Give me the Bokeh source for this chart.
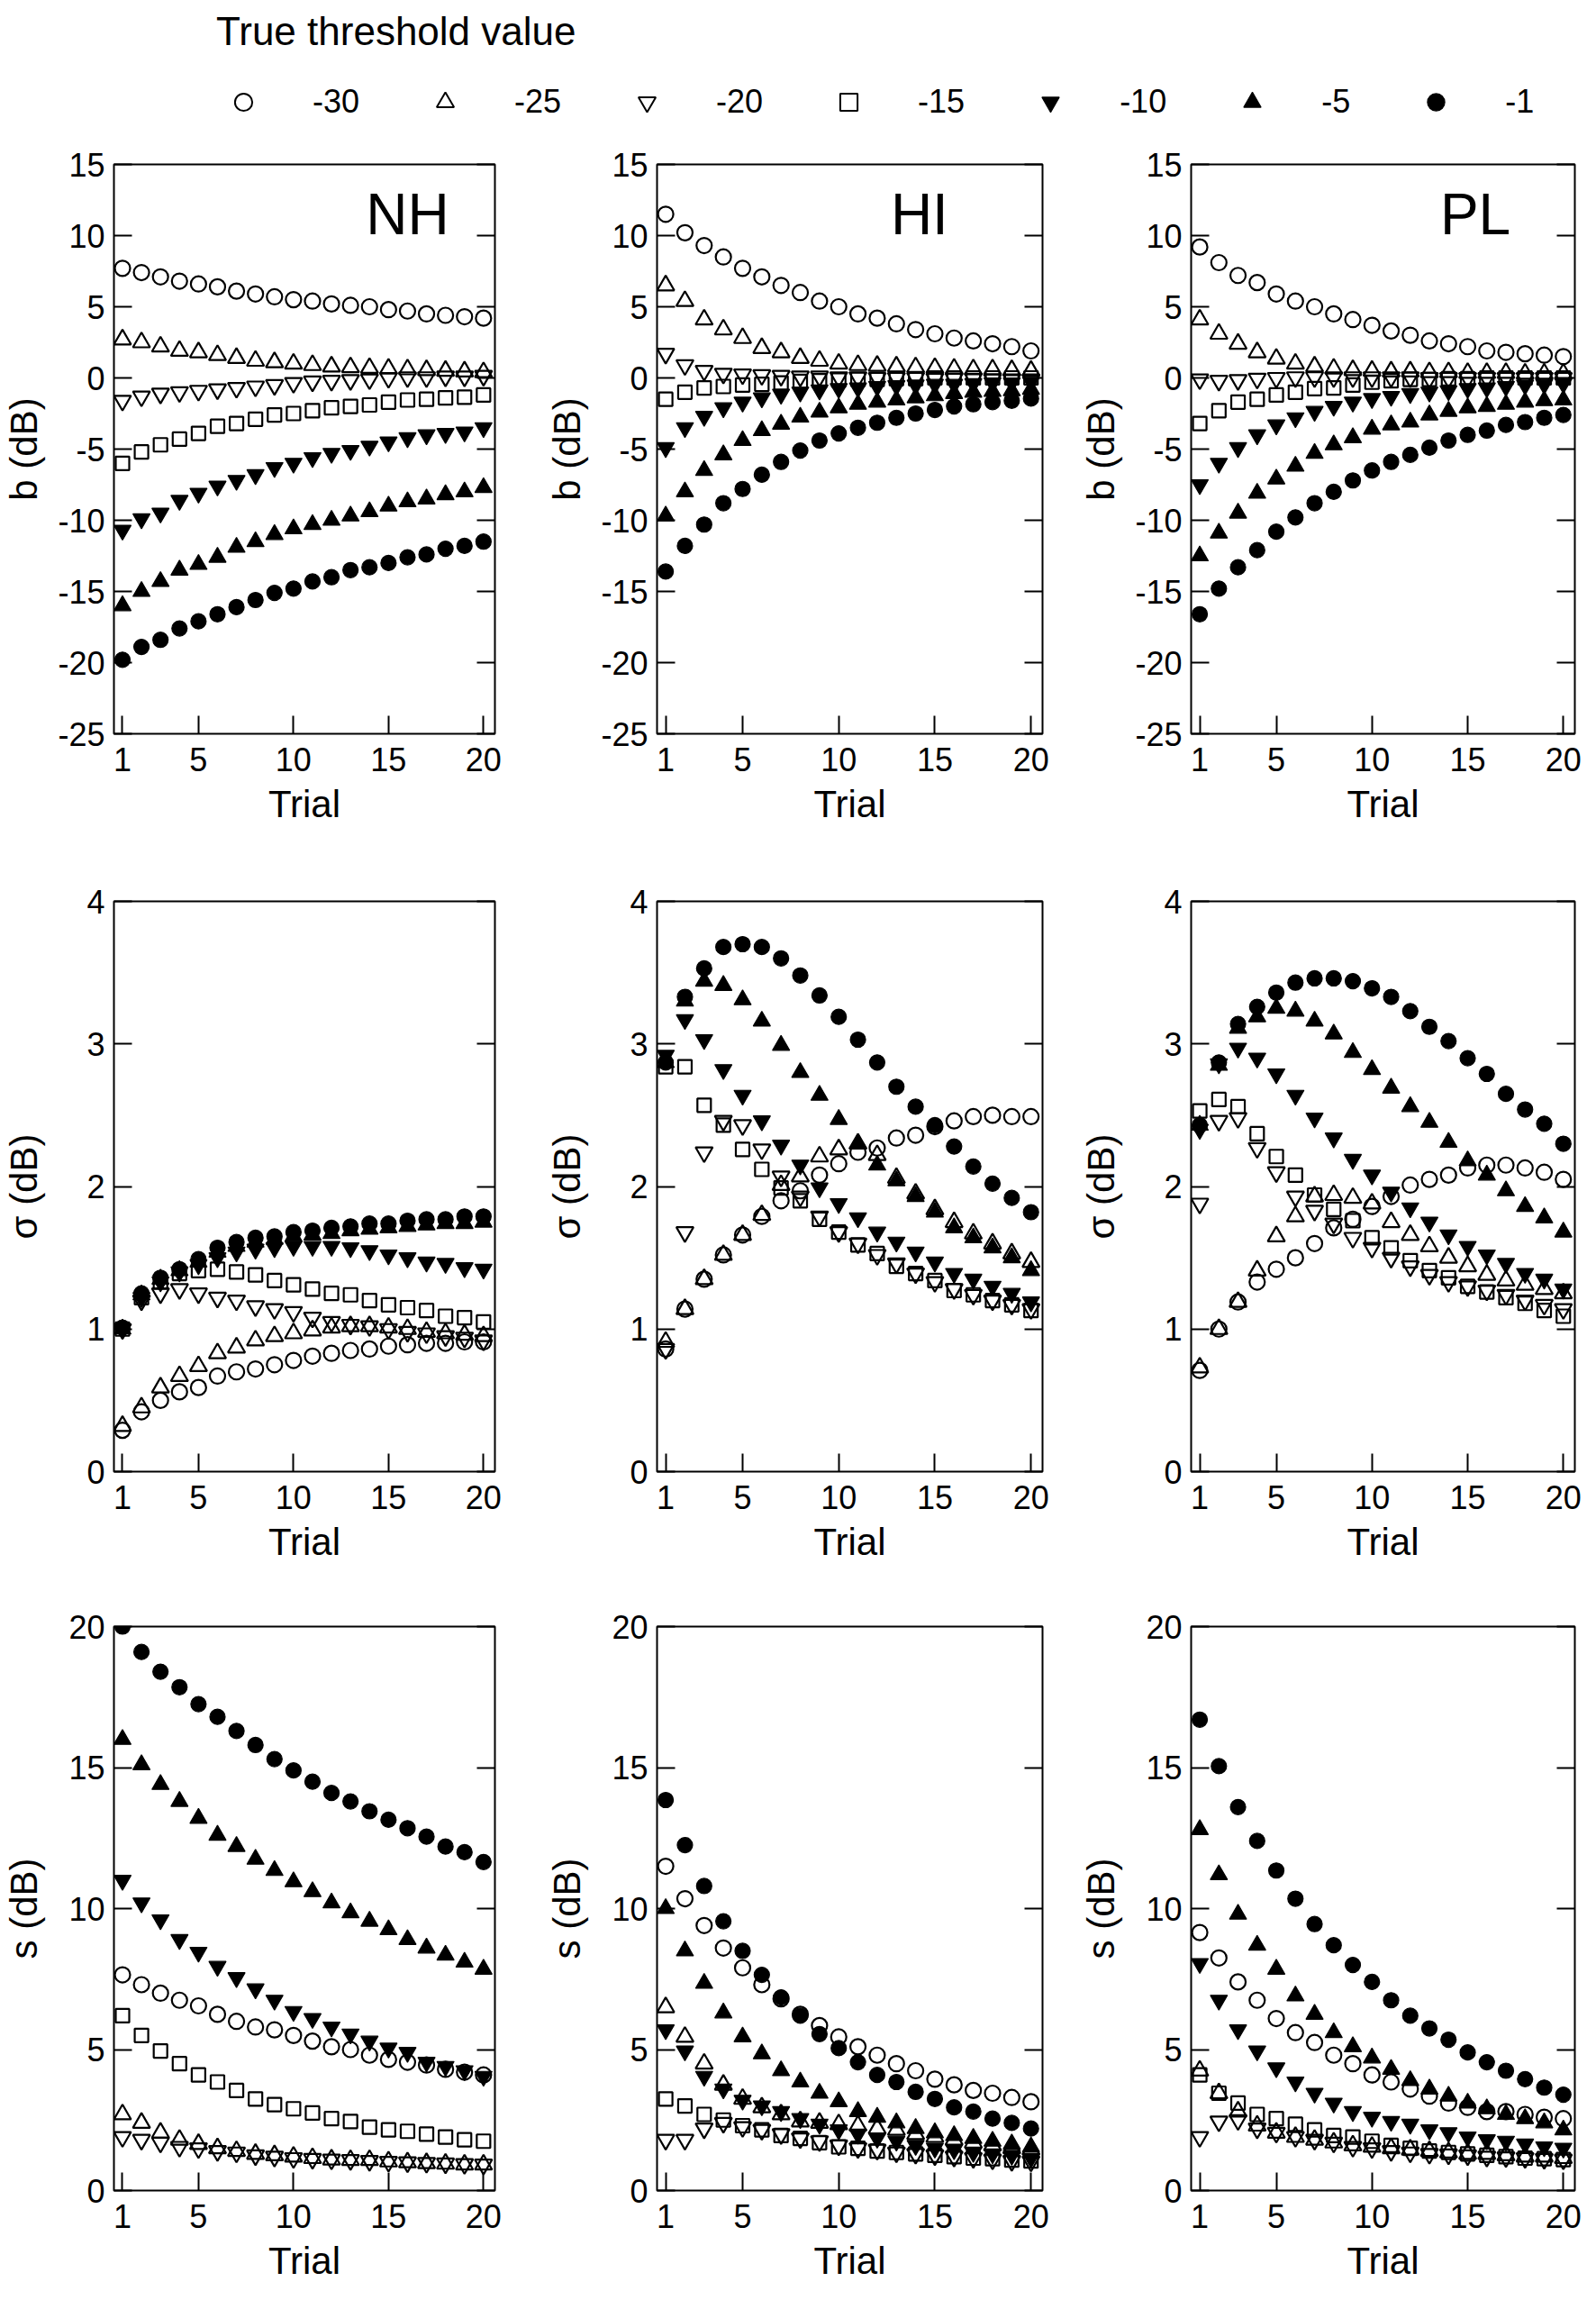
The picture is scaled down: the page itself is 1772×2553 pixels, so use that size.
from bokeh.plotting import figure
from bokeh.models import Range1d, LinearAxis, FixedTicker, Label, Legend, LegendItem
from bokeh.layouts import column, row
from bokeh.embed import file_html
from bokeh.resources import INLINE

FONT = "Liberation Sans"

TRIALS = list(range(1, 21))
THRESHOLDS = [-30, -25, -20, -15, -10, -5, -1]
X_TICKS = [1, 5, 10, 15, 20]
B_TICKS = [-25, -20, -15, -10, -5, 0, 5, 10, 15]
SIG_TICKS = [0, 1, 2, 3, 4]
S_TICKS = [0, 5, 10, 15, 20]
GROUPS = ["NH", "HI", "PL"]

# ---- b (dB) ----
b_NH_m30 = [7.7, 7.4, 7.1, 6.8, 6.6, 6.4, 6.1, 5.9, 5.7, 5.5, 5.4, 5.2, 5.1, 5.0, 4.8, 4.7, 4.5, 4.4, 4.3, 4.2]
b_NH_m25 = [2.7, 2.5, 2.2, 1.9, 1.8, 1.6, 1.4, 1.2, 1.1, 1.0, 0.9, 0.8, 0.75, 0.7, 0.65, 0.6, 0.55, 0.5, 0.45, 0.4]
b_NH_m20 = [-1.6, -1.3, -1.1, -1.0, -0.9, -0.8, -0.7, -0.6, -0.5, -0.35, -0.25, -0.2, -0.15, -0.1, 0.0, 0.05, 0.05, 0.1, 0.1, 0.15]
b_NH_m15 = [-6.0, -5.2, -4.7, -4.3, -3.9, -3.4, -3.2, -2.9, -2.6, -2.5, -2.3, -2.1, -2.0, -1.9, -1.7, -1.55, -1.5, -1.4, -1.35, -1.2]
b_NH_m10 = [-10.7, -9.9, -9.5, -8.6, -8.1, -7.6, -7.2, -6.8, -6.3, -6.0, -5.6, -5.3, -5.1, -4.8, -4.5, -4.2, -4.0, -3.9, -3.8, -3.5]
b_NH_m5 = [-16.0, -15.0, -14.3, -13.5, -13.1, -12.6, -11.9, -11.5, -11.0, -10.6, -10.3, -10.0, -9.7, -9.4, -9.0, -8.7, -8.5, -8.2, -8.0, -7.7]
b_NH_m1 = [-19.8, -18.9, -18.4, -17.6, -17.1, -16.6, -16.1, -15.6, -15.1, -14.8, -14.3, -14.0, -13.5, -13.3, -13.0, -12.6, -12.4, -12.0, -11.8, -11.5]

b_HI_m30 = [11.5, 10.2, 9.3, 8.5, 7.7, 7.1, 6.5, 6.0, 5.4, 5.0, 4.5, 4.2, 3.8, 3.4, 3.1, 2.8, 2.6, 2.4, 2.2, 1.9]
b_HI_m25 = [6.5, 5.4, 4.1, 3.4, 2.8, 2.1, 1.8, 1.4, 1.2, 1.0, 0.9, 0.85, 0.8, 0.75, 0.7, 0.65, 0.6, 0.6, 0.55, 0.5]
b_HI_m20 = [1.7, 0.9, 0.5, 0.3, 0.25, 0.2, 0.15, 0.1, 0.1, 0.05, 0.05, 0.0, 0.0, 0.0, -0.05, -0.05, -0.05, -0.1, -0.1, -0.1]
b_HI_m15 = [-1.5, -1.0, -0.7, -0.6, -0.5, -0.45, -0.35, -0.25, -0.2, -0.15, -0.1, -0.1, -0.05, -0.05, 0.0, 0.0, 0.0, 0.0, 0.0, 0.0]
b_HI_m10 = [-4.9, -3.5, -2.7, -2.1, -1.7, -1.4, -1.15, -1.0, -0.85, -0.75, -0.7, -0.6, -0.55, -0.5, -0.45, -0.45, -0.4, -0.35, -0.35, -0.3]
b_HI_m5 = [-9.7, -8.0, -6.5, -5.4, -4.4, -3.7, -3.25, -2.75, -2.4, -2.1, -1.85, -1.7, -1.55, -1.4, -1.25, -1.1, -1.0, -0.95, -0.9, -0.8]
b_HI_m1 = [-13.6, -11.8, -10.3, -8.8, -7.8, -6.8, -5.9, -5.1, -4.4, -3.9, -3.5, -3.15, -2.8, -2.5, -2.25, -2.0, -1.85, -1.7, -1.6, -1.45]

b_PL_m30 = [9.2, 8.1, 7.2, 6.7, 5.9, 5.4, 5.0, 4.5, 4.1, 3.7, 3.3, 3.0, 2.6, 2.4, 2.2, 1.9, 1.8, 1.7, 1.6, 1.5]
b_PL_m25 = [4.1, 3.1, 2.4, 1.8, 1.35, 1.0, 0.8, 0.65, 0.55, 0.5, 0.45, 0.45, 0.4, 0.4, 0.35, 0.35, 0.35, 0.3, 0.3, 0.3]
b_PL_m20 = [-0.1, -0.2, -0.15, -0.05, 0.0, 0.05, 0.05, 0.05, 0.05, 0.05, 0.05, 0.05, 0.0, 0.0, 0.0, 0.0, 0.0, 0.0, 0.0, 0.0]
b_PL_m15 = [-3.2, -2.3, -1.7, -1.5, -1.2, -1.0, -0.75, -0.7, -0.5, -0.3, -0.2, -0.1, -0.1, -0.05, -0.05, 0.0, 0.0, 0.0, 0.0, 0.0]
b_PL_m10 = [-7.5, -6.0, -4.9, -4.0, -3.3, -2.8, -2.35, -2.0, -1.7, -1.45, -1.3, -1.1, -1.0, -0.9, -0.75, -0.7, -0.6, -0.5, -0.45, -0.4]
b_PL_m5 = [-12.5, -10.9, -9.5, -8.1, -7.1, -6.2, -5.3, -4.7, -4.2, -3.6, -3.3, -3.1, -2.6, -2.35, -2.1, -2.0, -1.85, -1.7, -1.6, -1.55]
b_PL_m1 = [-16.6, -14.8, -13.3, -12.1, -10.8, -9.8, -8.8, -8.0, -7.2, -6.5, -5.9, -5.4, -4.9, -4.4, -4.0, -3.7, -3.3, -3.1, -2.8, -2.6]

# ---- sigma (dB) ----
sig_NH_m30 = [0.29, 0.42, 0.50, 0.56, 0.59, 0.67, 0.70, 0.72, 0.75, 0.78, 0.81, 0.83, 0.85, 0.86, 0.88, 0.89, 0.90, 0.90, 0.91, 0.91]
sig_NH_m25 = [0.32, 0.45, 0.59, 0.67, 0.74, 0.83, 0.87, 0.92, 0.95, 0.97, 0.99, 1.01, 1.02, 1.02, 1.01, 1.0, 0.98, 0.97, 0.96, 0.95]
sig_NH_m20 = [1.0, 1.2, 1.25, 1.28, 1.25, 1.22, 1.20, 1.16, 1.14, 1.12, 1.08, 1.05, 1.03, 1.02, 1.0, 0.98, 0.97, 0.95, 0.94, 0.92]
sig_NH_m15 = [1.0, 1.22, 1.33, 1.39, 1.41, 1.42, 1.40, 1.38, 1.34, 1.31, 1.28, 1.25, 1.24, 1.20, 1.17, 1.15, 1.13, 1.09, 1.08, 1.05]
sig_NH_m10 = [1.0, 1.22, 1.33, 1.40, 1.45, 1.50, 1.54, 1.56, 1.57, 1.58, 1.58, 1.58, 1.57, 1.55, 1.52, 1.50, 1.47, 1.46, 1.43, 1.42]
sig_NH_m5 = [1.0, 1.24, 1.35, 1.41, 1.47, 1.54, 1.58, 1.61, 1.63, 1.65, 1.66, 1.67, 1.69, 1.70, 1.71, 1.72, 1.73, 1.74, 1.74, 1.75]
sig_NH_m1 = [1.01, 1.25, 1.36, 1.42, 1.49, 1.57, 1.61, 1.64, 1.65, 1.68, 1.69, 1.71, 1.72, 1.74, 1.74, 1.76, 1.77, 1.77, 1.79, 1.79]

sig_HI_m30 = [0.86, 1.14, 1.35, 1.52, 1.66, 1.79, 1.90, 1.97, 2.08, 2.16, 2.24, 2.27, 2.34, 2.36, 2.42, 2.46, 2.49, 2.50, 2.49, 2.49]
sig_HI_m25 = [0.91, 1.14, 1.35, 1.52, 1.66, 1.80, 2.01, 2.07, 2.21, 2.26, 2.30, 2.22, 2.06, 1.95, 1.84, 1.75, 1.67, 1.60, 1.53, 1.47]
sig_HI_m20 = [0.86, 1.68, 2.24, 2.46, 2.43, 2.26, 2.07, 1.93, 1.79, 1.68, 1.60, 1.52, 1.46, 1.39, 1.33, 1.28, 1.24, 1.20, 1.17, 1.14]
sig_HI_m15 = [2.84, 2.84, 2.57, 2.43, 2.26, 2.12, 1.99, 1.90, 1.77, 1.68, 1.59, 1.53, 1.44, 1.39, 1.34, 1.27, 1.24, 1.20, 1.17, 1.13]
sig_HI_m10 = [2.92, 3.17, 3.03, 2.82, 2.64, 2.46, 2.29, 2.15, 1.99, 1.88, 1.78, 1.68, 1.61, 1.54, 1.47, 1.39, 1.35, 1.30, 1.25, 1.19]
sig_HI_m5 = [2.87, 3.30, 3.44, 3.41, 3.31, 3.16, 2.99, 2.80, 2.64, 2.47, 2.30, 2.15, 2.04, 1.93, 1.82, 1.71, 1.64, 1.57, 1.50, 1.41]
sig_HI_m1 = [2.87, 3.33, 3.53, 3.68, 3.70, 3.68, 3.60, 3.48, 3.34, 3.19, 3.03, 2.87, 2.70, 2.56, 2.43, 2.28, 2.14, 2.02, 1.92, 1.82]

sig_PL_m30 = [0.71, 1.0, 1.19, 1.33, 1.42, 1.50, 1.60, 1.71, 1.77, 1.86, 1.93, 2.01, 2.05, 2.08, 2.13, 2.15, 2.15, 2.13, 2.10, 2.05]
sig_PL_m25 = [0.73, 1.0, 1.19, 1.41, 1.65, 1.79, 1.93, 1.94, 1.92, 1.88, 1.75, 1.66, 1.58, 1.50, 1.44, 1.38, 1.34, 1.31, 1.28, 1.25]
sig_PL_m20 = [1.88, 2.46, 2.48, 2.27, 2.10, 1.93, 1.83, 1.74, 1.64, 1.57, 1.50, 1.44, 1.38, 1.33, 1.30, 1.27, 1.24, 1.20, 1.17, 1.14]
sig_PL_m15 = [2.53, 2.61, 2.56, 2.37, 2.21, 2.08, 1.94, 1.84, 1.76, 1.64, 1.57, 1.48, 1.41, 1.36, 1.30, 1.26, 1.22, 1.18, 1.13, 1.09]
sig_PL_m10 = [2.40, 2.86, 2.97, 2.90, 2.79, 2.64, 2.48, 2.34, 2.19, 2.08, 1.96, 1.85, 1.75, 1.66, 1.58, 1.52, 1.46, 1.39, 1.35, 1.28]
sig_PL_m5 = [2.43, 2.85, 3.11, 3.19, 3.25, 3.23, 3.16, 3.07, 2.94, 2.82, 2.69, 2.56, 2.45, 2.31, 2.18, 2.08, 1.97, 1.86, 1.78, 1.68]
sig_PL_m1 = [2.43, 2.87, 3.14, 3.26, 3.36, 3.43, 3.46, 3.46, 3.44, 3.39, 3.33, 3.23, 3.12, 3.02, 2.90, 2.79, 2.65, 2.54, 2.44, 2.30]

# ---- s (dB) ----
s_NH_m30 = [7.65, 7.3, 7.0, 6.75, 6.55, 6.25, 6.0, 5.8, 5.7, 5.5, 5.3, 5.1, 5.0, 4.8, 4.65, 4.55, 4.45, 4.3, 4.2, 4.1]
s_NH_m25 = [2.7, 2.4, 2.05, 1.8, 1.65, 1.5, 1.4, 1.3, 1.25, 1.2, 1.15, 1.1, 1.08, 1.08, 1.03, 1.0, 0.97, 0.95, 0.92, 0.92]
s_NH_m20 = [1.9, 1.8, 1.7, 1.55, 1.5, 1.4, 1.35, 1.25, 1.2, 1.15, 1.12, 1.1, 1.08, 1.05, 1.02, 1.0, 0.98, 0.96, 0.94, 0.92]
s_NH_m15 = [6.2, 5.5, 4.95, 4.5, 4.1, 3.85, 3.55, 3.25, 3.05, 2.9, 2.75, 2.55, 2.45, 2.25, 2.15, 2.1, 2.0, 1.9, 1.8, 1.75]
s_NH_m10 = [11.0, 10.2, 9.6, 8.9, 8.45, 7.95, 7.55, 7.15, 6.75, 6.35, 6.1, 5.8, 5.55, 5.3, 5.05, 4.9, 4.55, 4.4, 4.25, 4.05]
s_NH_m5 = [16.0, 15.1, 14.4, 13.8, 13.2, 12.6, 12.2, 11.75, 11.35, 10.95, 10.6, 10.2, 9.85, 9.55, 9.25, 8.9, 8.6, 8.35, 8.1, 7.85]
s_NH_m1 = [20.0, 19.1, 18.4, 17.85, 17.25, 16.8, 16.3, 15.8, 15.3, 14.9, 14.5, 14.1, 13.8, 13.45, 13.15, 12.85, 12.55, 12.2, 12.0, 11.65]

s_HI_m30 = [11.5, 10.35, 9.4, 8.6, 7.9, 7.3, 6.8, 6.25, 5.85, 5.45, 5.1, 4.8, 4.5, 4.25, 3.95, 3.75, 3.55, 3.45, 3.3, 3.15]
s_HI_m25 = [6.5, 5.45, 4.5, 3.75, 3.25, 2.95, 2.7, 2.45, 2.4, 2.35, 2.3, 2.2, 2.15, 2.0, 1.9, 1.8, 1.7, 1.6, 1.5, 1.45]
s_HI_m20 = [1.8, 1.8, 2.2, 2.4, 2.25, 2.15, 2.0, 1.85, 1.75, 1.6, 1.5, 1.45, 1.35, 1.3, 1.25, 1.2, 1.15, 1.1, 1.05, 1.03]
s_HI_m15 = [3.25, 3.0, 2.7, 2.5, 2.3, 2.15, 1.95, 1.85, 1.7, 1.55, 1.5, 1.4, 1.35, 1.3, 1.25, 1.2, 1.15, 1.13, 1.08, 1.05]
s_HI_m10 = [5.7, 4.95, 4.05, 3.6, 3.2, 3.0, 2.8, 2.55, 2.35, 2.15, 2.0, 1.85, 1.75, 1.6, 1.5, 1.45, 1.35, 1.3, 1.25, 1.15]
s_HI_m5 = [10.0, 8.5, 7.35, 6.3, 5.45, 4.85, 4.25, 3.85, 3.45, 3.15, 2.8, 2.6, 2.4, 2.2, 2.05, 1.95, 1.85, 1.75, 1.65, 1.55]
s_HI_m1 = [13.85, 12.25, 10.8, 9.55, 8.5, 7.65, 6.85, 6.2, 5.55, 5.05, 4.55, 4.1, 3.85, 3.5, 3.25, 2.95, 2.8, 2.55, 2.4, 2.2]

s_PL_m30 = [9.15, 8.25, 7.4, 6.75, 6.1, 5.6, 5.25, 4.8, 4.5, 4.1, 3.85, 3.6, 3.35, 3.1, 2.95, 2.8, 2.8, 2.7, 2.6, 2.55]
s_PL_m25 = [4.25, 3.45, 2.8, 2.3, 2.05, 1.9, 1.8, 1.7, 1.6, 1.55, 1.5, 1.45, 1.4, 1.35, 1.3, 1.3, 1.25, 1.2, 1.2, 1.15]
s_PL_m20 = [1.9, 2.45, 2.5, 2.2, 2.05, 1.9, 1.8, 1.7, 1.55, 1.5, 1.4, 1.35, 1.3, 1.28, 1.25, 1.2, 1.18, 1.15, 1.12, 1.1]
s_PL_m15 = [4.1, 3.45, 3.1, 2.7, 2.55, 2.35, 2.15, 1.95, 1.9, 1.75, 1.6, 1.5, 1.4, 1.35, 1.3, 1.25, 1.2, 1.15, 1.13, 1.1]
s_PL_m10 = [8.05, 6.75, 5.7, 4.95, 4.35, 3.85, 3.45, 3.1, 2.8, 2.6, 2.45, 2.35, 2.15, 2.05, 1.9, 1.8, 1.75, 1.65, 1.55, 1.5]
s_PL_m5 = [12.8, 11.2, 9.8, 8.7, 7.85, 6.9, 6.25, 5.6, 5.1, 4.7, 4.3, 3.9, 3.6, 3.35, 3.1, 2.9, 2.7, 2.55, 2.4, 2.15]
s_PL_m1 = [16.7, 15.05, 13.6, 12.4, 11.35, 10.35, 9.45, 8.7, 8.0, 7.4, 6.75, 6.2, 5.75, 5.35, 4.9, 4.55, 4.25, 3.95, 3.65, 3.4]

g = globals()
def series(prefix, grp):
    return [g["%s_%s_m%d" % (prefix, grp, -t)] for t in THRESHOLDS]

# marker style per threshold (shape, filled, size)
STYLE = [("circle", False, 17), ("triangle", False, 19), ("inverted_triangle", False, 19),
         ("square", False, 15), ("inverted_triangle", True, 19), ("triangle", True, 19),
         ("circle", True, 17)]

# layout geometry (pixels)
COL_W = [569, 608, 579]
COL_LEFT = [123, 160, 145]
COL_RIGHT = [20, 20, 8]
ROW_H = [792, 816, 787]
ROW_TOP = [40, 66, 55]
ROW_BOTTOM = [120, 117, 106]

ROWS = [
    dict(prefix="b", yr=(-25, 15), ticks=B_TICKS, label="b (dB)", standoff=11),
    dict(prefix="sig", yr=(0, 4), ticks=SIG_TICKS, label="\u03c3 (dB)", standoff=43),
    dict(prefix="s", yr=(0, 20), ticks=S_TICKS, label="s (dB)", standoff=23),
]
GROUP_LABEL_POS = {"NH": 16.0, "HI": 14.2, "PL": 15.4}


def style_axis(ax, ticks):
    ax.ticker = FixedTicker(ticks=ticks)
    ax.major_label_overrides = {t: str(t) for t in ticks}
    ax.axis_line_color = None
    ax.major_tick_in = 20
    ax.major_tick_out = 0
    ax.major_tick_line_width = 2
    ax.major_tick_line_color = "black"
    ax.minor_tick_line_color = None
    ax.major_label_text_font = FONT
    ax.major_label_text_font_size = "36px"
    ax.major_label_text_color = "black"
    ax.major_label_standoff = 10
    ax.axis_label_text_font = FONT
    ax.axis_label_text_font_size = "42px"
    ax.axis_label_text_font_style = "normal"
    ax.axis_label_text_color = "black"


def make_panel(ri, ci):
    spec = ROWS[ri]
    grp = GROUPS[ci]
    p = figure(width=COL_W[ci], height=ROW_H[ri],
               x_range=Range1d(0.55, 20.6), y_range=Range1d(*spec["yr"]),
               output_backend="svg", toolbar_location=None,
               min_border_left=COL_LEFT[ci], min_border_right=COL_RIGHT[ci],
               min_border_top=ROW_TOP[ri], min_border_bottom=ROW_BOTTOM[ri],
               background_fill_color="white", border_fill_color="white")
    p.outline_line_color = "black"
    p.outline_line_width = 2
    p.xgrid.visible = False
    p.ygrid.visible = False
    style_axis(p.xaxis[0], X_TICKS)
    p.xaxis.axis_label = "Trial"
    p.xaxis.major_label_standoff = 15
    p.xaxis.axis_label_standoff = 10
    style_axis(p.yaxis[0], spec["ticks"])
    p.yaxis.axis_label = spec["label"]
    p.yaxis.axis_label_standoff = spec["standoff"]
    # mirrored tick marks on the right edge (no labels)
    rax = LinearAxis()
    style_axis(rax, spec["ticks"])
    rax.major_label_text_font_size = "1px"
    rax.major_label_text_color = None
    rax.major_label_standoff = 0
    p.add_layout(rax, "right")

    for vals, (mk, filled, sz) in zip(series(spec["prefix"], grp), STYLE):
        p.scatter(x=TRIALS, y=vals, marker=mk, size=sz,
                  line_color="black", line_width=1.2 if filled else 2.2,
                  fill_color="black" if filled else None)
    if ri == 0:
        p.add_layout(Label(x=GROUP_LABEL_POS[grp], y=11.5, text=grp,
                           text_align="center", text_baseline="middle",
                           text_font=FONT, text_font_size="64px", text_color="black"))
    return p


# legend strip
leg = figure(width=1756, height=142, x_range=Range1d(0, 1), y_range=Range1d(0, 1),
             output_backend="svg", toolbar_location=None, min_border=0,
             x_axis_type=None, y_axis_type=None, outline_line_color=None,
             background_fill_color="white", border_fill_color="white")
leg.xgrid.visible = False
leg.ygrid.visible = False
items = []
nan = float("nan")
for t, (mk, filled, sz) in zip(THRESHOLDS, STYLE):
    r = leg.scatter(x=[nan], y=[nan], marker=mk, size=sz, line_color="black",
                    line_width=1.2 if filled else 2,
                    fill_color="black" if filled else None)
    items.append(LegendItem(label=str(t), renderers=[r]))
legend = Legend(items=items, orientation="horizontal", title="True threshold value",
                location=(240, 5), padding=0, margin=0,
                border_line_color=None, background_fill_alpha=0,
                title_text_font=FONT, title_text_font_size="44px",
                title_text_font_style="normal", title_text_color="black",
                title_standoff=29,
                label_text_font=FONT, label_text_font_size="36px", label_text_color="black",
                glyph_width=60, glyph_height=48, label_height=48,
                label_standoff=47, spacing=65)
leg.add_layout(legend)

rows = [row(*[make_panel(ri, ci) for ci in range(3)]) for ri in range(3)]
layout = column(leg, *rows)

open("out.html", "w").write(file_html(layout, INLINE))
